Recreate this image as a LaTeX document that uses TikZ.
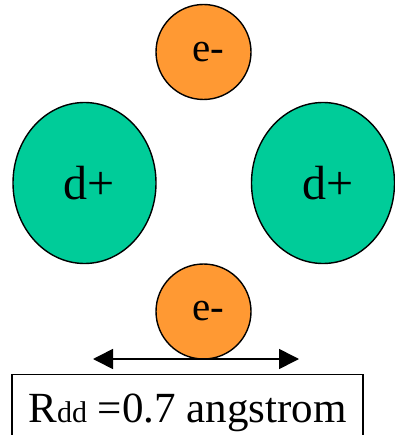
\documentclass[tikz,border=0pt]{standalone}
\usepackage{fontspec}
\setmainfont{Liberation Serif}
\usetikzlibrary{shapes.geometric,arrows.meta}
\definecolor{eorange}{HTML}{FF9933}
\definecolor{dgreen}{HTML}{00CC99}
\newcommand{\shifted}[3]{\raisebox{#2}{\hspace*{#1}#3}}
\begin{document}
\begin{tikzpicture}[x=1pt,y=1pt,
  electron/.style={circle,draw=black,line width=1.4pt,fill=eorange,minimum size=95pt,inner sep=0pt,font=\fontsize{41}{41}\selectfont},
  deut/.style={ellipse,draw=black,line width=1.4pt,fill=dgreen,minimum width=143pt,minimum height=161pt,inner sep=0pt,font=\fontsize{48}{48}\selectfont},
  labelbox/.style={draw=black,line width=1.4pt,inner sep=0pt,minimum width=351pt,text height=48pt,text depth=30pt,anchor=north,font=\fontsize{43}{43}\selectfont},
  dimarrow/.style={line width=1.6pt,{Triangle[length=20pt,width=20pt]}-{Triangle[length=20pt,width=20pt]}}]
\useasboundingbox (0,0) rectangle (394,-435);
\node[electron] (etop) at (203.5,-52) {\shifted{9pt}{-5pt}{e-}};
\node[deut] (dleft) at (84.5,-183) {\shifted{10pt}{-3pt}{d+}};
\node[deut] (dright) at (323,-183) {\shifted{10pt}{-3pt}{d+}};
\node[electron] (ebot) at (203.5,-311.5) {\shifted{9pt}{-5pt}{e-}};
\coordinate (al) at (93,-359);
\coordinate (ar) at (299,-359);
\draw[dimarrow] (al) -- (ar);
\node[labelbox] (label) at (187.5,-374) {R{\fontsize{30}{30}\selectfont dd} =0.7 angstrom};
\end{tikzpicture}
\end{document}
